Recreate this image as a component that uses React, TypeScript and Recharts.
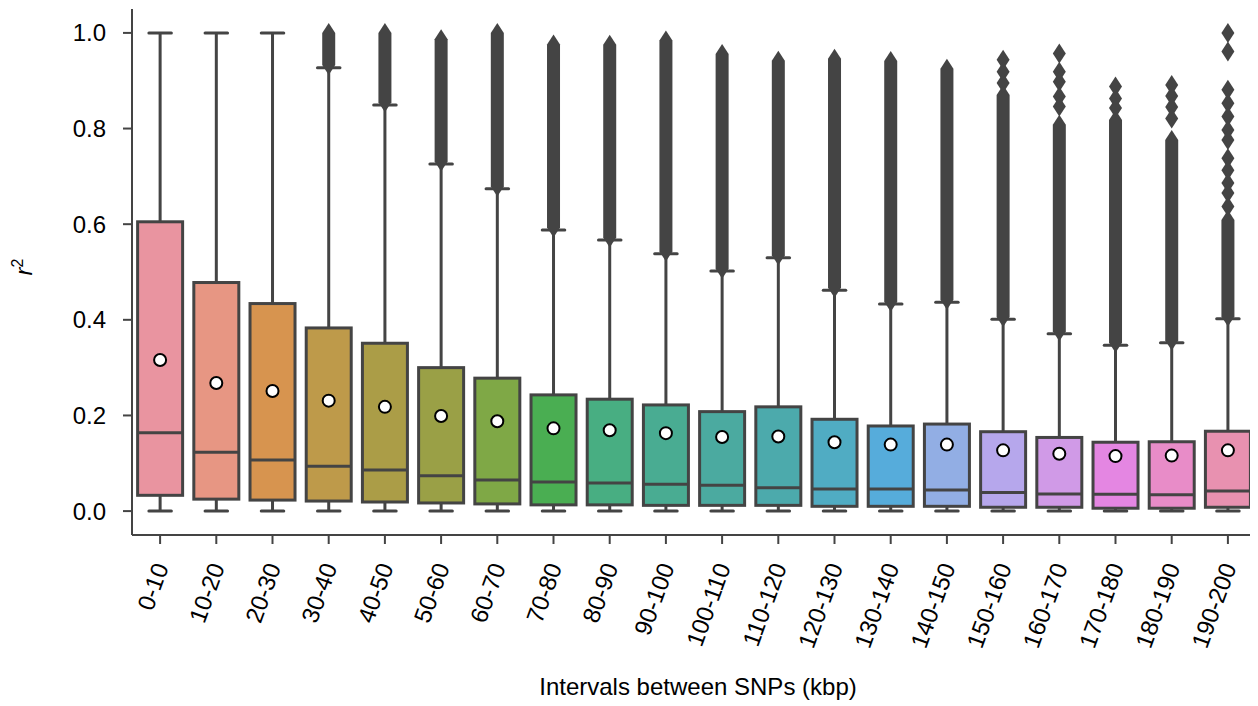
import React from 'react';
import { ComposedChart, Bar, Scatter, XAxis, YAxis } from 'recharts';

const categories = [
  '0-10', '10-20', '20-30', '30-40', '40-50', '50-60', '60-70', '70-80', '80-90', '90-100',
  '100-110', '110-120', '120-130', '130-140', '140-150', '150-160', '160-170', '170-180', '180-190', '190-200',
];

const whiskerLow = [0, 0, 0, 0, 0, 0, 0, 0, 0, 0, 0, 0, 0, 0, 0, 0, 0, 0, 0, 0];
const q1 = [0.033, 0.025, 0.023, 0.021, 0.019, 0.017, 0.015, 0.013, 0.013, 0.012, 0.012, 0.012, 0.010, 0.010, 0.010, 0.008, 0.008, 0.006, 0.006, 0.008];
const median = [0.164, 0.123, 0.107, 0.094, 0.086, 0.074, 0.065, 0.061, 0.059, 0.056, 0.054, 0.049, 0.046, 0.046, 0.044, 0.039, 0.036, 0.035, 0.034, 0.042];
const q3 = [0.605, 0.478, 0.434, 0.383, 0.351, 0.300, 0.278, 0.243, 0.234, 0.222, 0.208, 0.218, 0.192, 0.178, 0.182, 0.166, 0.154, 0.144, 0.145, 0.167];
const whiskerHigh = [1.0, 1.0, 1.0, 0.927, 0.849, 0.726, 0.674, 0.588, 0.567, 0.538, 0.502, 0.530, 0.462, 0.433, 0.437, 0.401, 0.371, 0.347, 0.352, 0.402];
const means = [0.316, 0.268, 0.251, 0.231, 0.218, 0.199, 0.188, 0.173, 0.169, 0.163, 0.155, 0.156, 0.144, 0.139, 0.139, 0.127, 0.120, 0.115, 0.116, 0.127];

// lowest flier and top of the dense column of fliers
const flierLow = [null, null, null, 0.933, 0.855, 0.731, 0.679, 0.593, 0.572, 0.543, 0.507, 0.535, 0.467, 0.438, 0.442, 0.406, 0.376, 0.352, 0.357, 0.407];
const flierDenseTop = [null, null, null, 1.0, 1.0, 0.987, 1.0, 0.976, 0.975, 0.984, 0.956, 0.942, 0.946, 0.941, 0.925, 0.870, 0.808, 0.818, 0.776, 0.609];

// separate fliers above the dense column
const fliers150_160 = [0.944, 0.919, 0.895];
const fliers160_170 = [0.957, 0.919, 0.898, 0.867, 0.846];
const fliers170_180 = [0.888, 0.863, 0.843];
const fliers180_190 = [0.891, 0.868, 0.845, 0.821];
const fliers190_200 = [1.0, 0.961, 0.881, 0.853, 0.825, 0.797, 0.776, 0.738, 0.713, 0.686, 0.665, 0.637];

const boxColors = [
  '#E994A0', '#E79683', '#D7944F', '#BE9A4A', '#AB9D47', '#9AA046', '#7FA846', '#4AAE52', '#48AE82', '#49AC92',
  '#4BAAA0', '#4CAAAC', '#50ACC3', '#56ACDB', '#92AEE4', '#B6A7EC', '#D09AE7', '#E486E2', '#E88CC8', '#E891B0',
];

const yTicks = [0, 0.2, 0.4, 0.6, 0.8, 1.0];

const rows = categories.map((cat, i) => ({
  cat,
  lo: whiskerLow[i],
  q1: q1[i],
  med: median[i],
  q3: q3[i],
  hi: whiskerHigh[i],
  mean: means[i],
  flLow: flierLow[i],
  flTop: flierDenseTop[i],
  color: boxColors[i],
}));

const sparse = [
  ...fliers150_160.map((v) => ({ cat: '150-160', v })),
  ...fliers160_170.map((v) => ({ cat: '160-170', v })),
  ...fliers170_180.map((v) => ({ cat: '170-180', v })),
  ...fliers180_190.map((v) => ({ cat: '180-190', v })),
  ...fliers190_200.map((v) => ({ cat: '190-200', v })),
];

const LINE = '#444444';
const FONT = '"Liberation Sans", Arial, Helvetica, sans-serif';
const DW = 6.5; // half width of diamond marker
const DH = 10; // half height of diamond marker

const WhiskerShape = (p: any) => {
  const { x, y, width, height } = p;
  if (x == null || y == null) return null;
  const top = Math.min(y, y + height);
  const bot = Math.max(y, y + height);
  const cx = x + width / 2;
  const cw = width / 4;
  return (
    <g>
      <line x1={cx} x2={cx} y1={top} y2={bot} stroke={LINE} strokeWidth={3} />
      <line x1={cx - cw} x2={cx + cw} y1={top} y2={top} stroke={LINE} strokeWidth={3} strokeLinecap="round" />
      <line x1={cx - cw} x2={cx + cw} y1={bot} y2={bot} stroke={LINE} strokeWidth={3} strokeLinecap="round" />
    </g>
  );
};

const BoxShape = (p: any) => {
  const { x, y, width, height, payload } = p;
  if (x == null || y == null) return null;
  const top = Math.min(y, y + height);
  const h = Math.abs(height);
  return <rect x={x} y={top} width={width} height={h} fill={payload.color} stroke={LINE} strokeWidth={3} />;
};

const MedianShape = (p: any) => {
  const { x, y, width, height } = p;
  if (x == null || y == null) return null;
  const top = Math.min(y, y + height);
  return <line x1={x} x2={x + width} y1={top} y2={top} stroke={LINE} strokeWidth={3} />;
};

const DenseFlierShape = (p: any) => {
  const { x, y, width, height } = p;
  if (x == null || y == null || height == null) return null;
  const top = Math.min(y, y + height);
  const bot = Math.max(y, y + height);
  const cx = x + width / 2;
  const pts = [
    [cx, top - DH],
    [cx + DW, top],
    [cx + DW, bot],
    [cx, bot + DH],
    [cx - DW, bot],
    [cx - DW, top],
  ]
    .map((q) => q.join(','))
    .join(' ');
  return <polygon points={pts} fill={LINE} />;
};

const DiamondShape = (p: any) => {
  const { cx, cy } = p;
  if (cx == null || cy == null) return null;
  const pts = [
    [cx, cy - DH],
    [cx + DW, cy],
    [cx, cy + DH],
    [cx - DW, cy],
  ]
    .map((q) => q.join(','))
    .join(' ');
  return <polygon points={pts} fill={LINE} />;
};

const MeanShape = (p: any) => {
  const { cx, cy } = p;
  if (cx == null || cy == null) return null;
  return <circle cx={cx} cy={cy} r={6} fill="#ffffff" stroke="#000000" strokeWidth={2} />;
};

const XTick = (p: any) => {
  const { x, y, payload } = p;
  return (
    <text
      x={x + 1}
      y={y + 2}
      transform={`rotate(-70, ${x + 1}, ${y + 2})`}
      textAnchor="end"
      dy="0.35em"
      fontSize={24}
      fontFamily={FONT}
      fill="#000"
    >
      {payload.value}
    </text>
  );
};

const YLabel = (p: any) => {
  const vb = p.viewBox || { x: 0, y: 0, width: 124, height: 526 };
  const lx = vb.x + 24;
  const ly = vb.y + vb.height / 2 - 5;
  return (
    <text
      x={lx}
      y={ly}
      transform={`rotate(-90, ${lx}, ${ly})`}
      textAnchor="middle"
      fontSize={24}
      fontFamily={FONT}
      fill="#000"
    >
      <tspan fontStyle="italic">r</tspan>
      <tspan fontSize={16} dy={-9}>2</tspan>
    </text>
  );
};

const XLabel = (p: any) => {
  const vb = p.viewBox || { x: 124, y: 527, width: 1124, height: 171 };
  return (
    <text
      x={vb.x + vb.width / 2 + 4}
      y={vb.y + 160}
      textAnchor="middle"
      fontSize={24}
      fontFamily={FONT}
      fill="#000"
    >
      Intervals between SNPs (kbp)
    </text>
  );
};

export default function App() {
  return (
    <ComposedChart
      width={1250}
      height={698}
      data={rows}
      margin={{ top: 1, right: 2, bottom: 0, left: 0 }}
      barCategoryGap="10%"
    >
      <XAxis xAxisId="w" dataKey="cat" type="category" hide height={0} />
      <XAxis xAxisId="m" dataKey="cat" type="category" hide height={0} />
      <XAxis xAxisId="fl" dataKey="cat" type="category" hide height={0} allowDuplicatedCategory={false} />
      <XAxis
        xAxisId="main"
        dataKey="cat"
        type="category"
        interval={0}
        height={171}
        tickSize={9}
        tickMargin={18}
        tick={<XTick />}
        axisLine={{ stroke: LINE, strokeWidth: 2 }}
        tickLine={{ stroke: LINE, strokeWidth: 2 }}
        label={<XLabel />}
      />
      <YAxis
        type="number"
        domain={[-0.05, 1.05]}
        ticks={yTicks}
        allowDataOverflow
        width={124}
        tickSize={9}
        tickMargin={17}
        tickFormatter={(v: number) => v.toFixed(1)}
        tick={{ fontSize: 24, fontFamily: FONT, fill: '#000' }}
        axisLine={{ stroke: LINE, strokeWidth: 2 }}
        tickLine={{ stroke: LINE, strokeWidth: 2 }}
        label={<YLabel />}
      />
      <Bar xAxisId="w" dataKey={(d: any) => [d.lo, d.hi]} shape={<WhiskerShape />} isAnimationActive={false} />
      <Bar xAxisId="main" dataKey={(d: any) => [d.q1, d.q3]} shape={<BoxShape />} isAnimationActive={false} />
      <Bar xAxisId="m" dataKey={(d: any) => [d.q1, d.med]} shape={<MedianShape />} isAnimationActive={false} />
      <Bar
        xAxisId="fl"
        data={rows}
        dataKey={(d: any) => (d.flLow == null ? null : [d.flLow, d.flTop])}
        shape={<DenseFlierShape />}
        isAnimationActive={false}
      />
      <Scatter xAxisId="fl" data={sparse} dataKey="v" shape={<DiamondShape />} isAnimationActive={false} />
      <Scatter xAxisId="main" dataKey="mean" shape={<MeanShape />} isAnimationActive={false} />
    </ComposedChart>
  );
}
